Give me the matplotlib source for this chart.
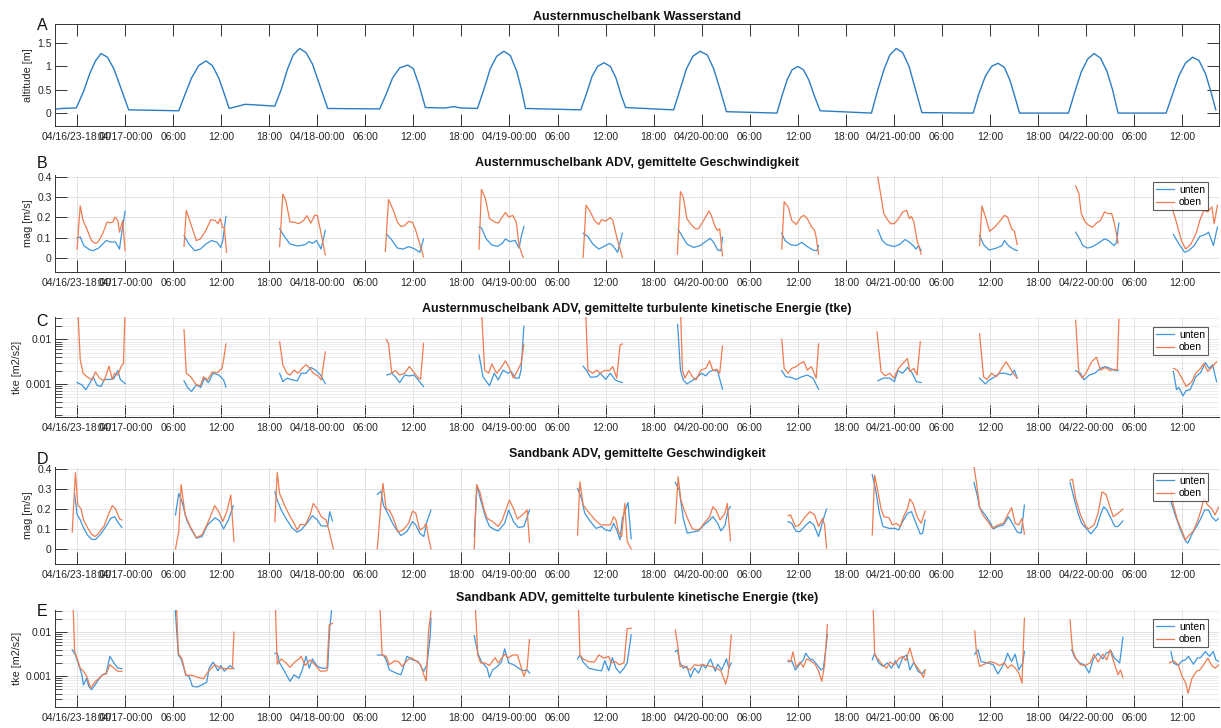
import numpy as np
import matplotlib
matplotlib.use("Agg")
import matplotlib.pyplot as plt
from matplotlib.ticker import FixedLocator, FixedFormatter, LogLocator, NullFormatter

plt.rcParams['font.family'] = ['Liberation Sans', 'DejaVu Sans']

# time axis: hours since 04/16/23 00:00
tick_hours = list(range(18, 157, 6))
tick_labels = ['04/16/23-18:00', '04/17-00:00', '06:00', '12:00', '18:00',
               '04/18-00:00', '06:00', '12:00', '18:00',
               '04/19-00:00', '06:00', '12:00', '18:00',
               '04/20-00:00', '06:00', '12:00', '18:00',
               '04/21-00:00', '06:00', '12:00', '18:00',
               '04/22-00:00', '06:00', '12:00']

titles = ['Austernmuschelbank Wasserstand',
          'Austernmuschelbank ADV, gemittelte Geschwindigkeit',
          'Austernmuschelbank ADV, gemittelte turbulente kinetische Energie (tke)',
          'Sandbank ADV, gemittelte Geschwindigkeit',
          'Sandbank ADV, gemittelte turbulente kinetische Energie (tke)']
letters = ['A', 'B', 'C', 'D', 'E']
ylabels = ['altitude [m]', 'mag [m/s]', 'tke [m2/s2]', 'mag [m/s]', 'tke [m2/s2]']

# panel A: water level (hour, m)
tide = [(15.2, 0.07), (16.0, 0.09), (17.9, 0.10),
        (18.8, 0.45), (19.6, 0.85), (20.3, 1.12), (21.0, 1.28), (21.8, 1.20), (22.6, 0.95), (23.5, 0.52), (24.45, 0.06),
        (30.7, 0.04), (31.5, 0.40), (32.3, 0.75), (33.2, 1.02), (34.1, 1.12), (34.9, 1.02), (35.7, 0.75), (36.4, 0.40), (37.0, 0.09),
        (39.0, 0.18), (41.0, 0.16), (42.7, 0.14),
        (43.5, 0.50), (44.3, 0.95), (45.0, 1.25), (45.8, 1.39), (46.6, 1.30), (47.4, 1.05), (48.3, 0.60), (49.3, 0.09),
        (55.8, 0.08),
        (56.6, 0.40), (57.4, 0.75), (58.3, 0.97), (59.3, 1.03), (60.0, 0.95), (60.7, 0.60), (61.5, 0.11),
        (64.0, 0.10), (65.0, 0.13), (66.0, 0.10), (68.0, 0.09),
        (68.8, 0.50), (69.6, 0.95), (70.4, 1.22), (71.3, 1.33), (72.1, 1.24), (72.9, 0.90), (73.5, 0.50), (74.0, 0.09),
        (80.9, 0.06),
        (81.6, 0.40), (82.3, 0.78), (83.0, 1.00), (83.8, 1.08), (84.6, 1.00), (85.3, 0.75), (85.9, 0.40), (86.5, 0.11),
        (92.5, 0.06),
        (93.3, 0.50), (94.1, 0.95), (94.9, 1.22), (95.8, 1.33), (96.7, 1.25), (97.5, 0.95), (98.3, 0.50), (99.1, 0.02),
        (105.4, -0.01),
        (106.0, 0.35), (106.7, 0.72), (107.3, 0.93), (108.0, 1.00), (108.7, 0.93), (109.4, 0.70), (110.1, 0.35), (110.8, 0.04),
        (117.2, -0.01),
        (118.0, 0.50), (118.8, 0.95), (119.5, 1.25), (120.3, 1.39), (121.1, 1.30), (121.9, 1.00), (122.7, 0.50), (123.5, 0.0),
        (129.9, -0.01),
        (130.6, 0.40), (131.4, 0.78), (132.2, 1.00), (133.0, 1.07), (133.8, 0.98), (134.5, 0.70), (135.1, 0.35), (135.7, -0.01),
        (141.8, -0.01),
        (142.6, 0.45), (143.4, 0.88), (144.2, 1.16), (145.0, 1.28), (145.8, 1.18), (146.6, 0.90), (147.3, 0.50), (148.0, -0.01),
        (154.0, -0.01),
        (154.8, 0.40), (155.6, 0.80), (156.4, 1.07), (157.3, 1.20), (158.1, 1.13), (158.9, 0.85), (159.6, 0.45), (160.2, 0.06)]

# panel B: Austernmuschelbank mag [m/s]
B_unten = [
    [(18.0, 0.098), (18.4, 0.103), (18.85, 0.06), (19.55, 0.04), (20.0, 0.035), (20.7, 0.048), (21.65, 0.085), (22.2, 0.078), (22.8, 0.078), (23.3, 0.043), (23.5, 0.10), (24.0, 0.23)],
    [(31.36, 0.11), (31.97, 0.068), (32.7, 0.035), (33.4, 0.043), (34.1, 0.068), (34.8, 0.085), (35.5, 0.076), (35.95, 0.051), (36.2, 0.085), (36.6, 0.204)],
    [(43.3, 0.143), (43.9, 0.105), (44.6, 0.068), (45.56, 0.058), (46.5, 0.065), (46.97, 0.08), (47.4, 0.071), (47.9, 0.085), (48.47, 0.043), (49.0, 0.135)],
    [(56.7, 0.115), (57.3, 0.088), (58.0, 0.048), (58.7, 0.043), (59.4, 0.055), (60.1, 0.045), (60.8, 0.027), (61.27, 0.093)],
    [(68.2, 0.151), (68.5, 0.148), (69.1, 0.093), (69.8, 0.063), (70.5, 0.056), (71.1, 0.071), (71.5, 0.093), (72.0, 0.08), (72.7, 0.085), (73.2, 0.048), (73.45, 0.101), (73.8, 0.154)],
    [(81.2, 0.121), (81.8, 0.105), (82.4, 0.068), (83.15, 0.043), (83.8, 0.056), (84.5, 0.071), (84.9, 0.06), (85.5, 0.027), (86.1, 0.121)],
    [(93.06, 0.138), (93.4, 0.118), (94.15, 0.068), (95.0, 0.051), (95.8, 0.06), (96.5, 0.08), (97.07, 0.096), (97.5, 0.076), (98.0, 0.038), (98.4, 0.035), (98.6, 0.101)],
    [(106.0, 0.121), (106.4, 0.085), (107.1, 0.065), (107.8, 0.06), (108.5, 0.076), (109.2, 0.055), (109.9, 0.038), (110.4, 0.035), (110.6, 0.06)],
    [(118.0, 0.138), (118.55, 0.085), (119.1, 0.065), (120.06, 0.055), (120.8, 0.068), (121.4, 0.09), (121.95, 0.076), (122.4, 0.06), (122.76, 0.043), (123.1, 0.06), (123.4, 0.035)],
    [(130.7, 0.11), (131.2, 0.065), (131.9, 0.038), (132.8, 0.048), (133.5, 0.06), (133.8, 0.085), (134.3, 0.06), (134.9, 0.043), (135.4, 0.035)],
    [(142.7, 0.126), (143.2, 0.093), (143.6, 0.06), (144.2, 0.048), (144.8, 0.055), (145.5, 0.071), (146.3, 0.093), (146.8, 0.085), (147.5, 0.06), (147.8, 0.076), (148.1, 0.171)],
    [(154.9, 0.115), (155.6, 0.068), (156.3, 0.027), (156.8, 0.035), (157.5, 0.06), (158.2, 0.105), (158.9, 0.115), (159.3, 0.126), (159.9, 0.06), (160.4, 0.151)],
]
B_oben = [
    [(18.0, 0.043), (18.4, 0.256), (18.75, 0.184), (19.3, 0.135), (19.8, 0.085), (20.25, 0.071), (20.6, 0.076), (21.2, 0.118), (21.75, 0.176), (22.1, 0.173), (22.5, 0.176), (22.7, 0.20), (23.1, 0.184), (23.3, 0.126), (23.7, 0.184), (24.0, 0.035)],
    [(31.36, 0.056), (31.64, 0.234), (32.2, 0.168), (32.9, 0.085), (33.4, 0.093), (34.1, 0.135), (34.7, 0.188), (35.25, 0.184), (35.6, 0.168), (35.86, 0.193), (36.2, 0.148), (36.4, 0.151), (36.66, 0.027)],
    [(43.3, 0.055), (43.7, 0.314), (44.06, 0.284), (44.6, 0.176), (45.1, 0.176), (45.66, 0.168), (46.3, 0.184), (46.7, 0.208), (47.2, 0.171), (47.67, 0.209), (48.0, 0.209), (48.4, 0.135), (49.0, 0.015)],
    [(56.5, 0.032), (56.9, 0.287), (57.5, 0.234), (58.0, 0.176), (58.45, 0.154), (58.9, 0.158), (59.4, 0.179), (59.9, 0.174), (60.3, 0.135), (60.8, 0.068), (61.27, 0.005)],
    [(68.2, 0.043), (68.5, 0.337), (69.0, 0.292), (69.5, 0.193), (70.2, 0.176), (70.6, 0.171), (71.1, 0.201), (71.5, 0.223), (71.9, 0.201), (72.4, 0.209), (72.85, 0.176), (73.2, 0.06), (73.7, 0.002)],
    [(81.2, 0.002), (81.56, 0.259), (82.1, 0.226), (82.6, 0.184), (83.15, 0.164), (83.5, 0.188), (84.0, 0.181), (84.6, 0.198), (84.9, 0.184), (85.4, 0.101), (85.9, 0.032), (86.1, 0.002)],
    [(92.97, 0.018), (93.35, 0.326), (93.7, 0.30), (94.15, 0.193), (94.6, 0.168), (95.2, 0.143), (95.6, 0.143), (96.0, 0.168), (96.5, 0.201), (96.9, 0.231), (97.2, 0.209), (97.7, 0.151), (98.0, 0.135), (98.25, 0.143), (98.6, 0.01)],
    [(106.0, 0.043), (106.3, 0.276), (106.8, 0.251), (107.25, 0.184), (107.8, 0.164), (108.4, 0.201), (108.76, 0.209), (109.2, 0.193), (109.7, 0.154), (110.1, 0.135), (110.3, 0.101), (110.6, 0.018)],
    [(118.0, 0.397), (118.4, 0.30), (118.75, 0.218), (119.1, 0.193), (119.6, 0.168), (120.06, 0.168), (120.6, 0.193), (121.1, 0.226), (121.6, 0.234), (121.95, 0.193), (122.2, 0.204), (122.5, 0.176), (122.9, 0.085), (123.4, 0.018)],
    [(130.7, 0.06), (131.0, 0.256), (131.5, 0.193), (131.95, 0.131), (132.6, 0.151), (133.2, 0.179), (133.8, 0.209), (134.2, 0.201), (134.7, 0.143), (135.05, 0.131), (135.4, 0.065)],
    [(142.7, 0.354), (143.1, 0.317), (143.4, 0.218), (143.9, 0.176), (144.35, 0.159), (144.8, 0.151), (145.3, 0.171), (145.8, 0.184), (146.3, 0.226), (146.7, 0.218), (147.2, 0.218), (147.5, 0.176), (147.8, 0.118), (148.0, 0.071)],
    [(154.7, 0.26), (154.9, 0.226), (155.4, 0.159), (155.9, 0.085), (156.45, 0.043), (157.1, 0.068), (157.8, 0.126), (158.2, 0.184), (158.7, 0.234), (159.2, 0.226), (159.7, 0.251), (160.0, 0.168), (160.4, 0.259)],
]

# panel C: Austernmuschelbank tke, read as log10(m2/s2)
C_unten = [
    [(18.0, -2.97), (18.6, -3.02), (19.1, -3.13), (19.55, -3.0), (20.0, -2.84), (20.5, -3.03), (21.0, -3.06), (21.4, -2.9), (22.1, -2.9), (22.6, -2.88), (23.1, -2.7), (23.4, -2.9), (24.0, -2.99)],
    [(31.36, -2.93), (31.8, -3.08), (32.3, -3.17), (32.9, -3.02), (33.45, -3.08), (33.9, -2.87), (34.4, -2.97), (35.0, -2.76), (35.7, -2.8), (36.3, -2.91), (36.6, -3.07)],
    [(43.3, -2.76), (43.7, -2.95), (44.25, -2.87), (44.86, -2.91), (45.5, -2.93), (46.0, -2.76), (46.6, -2.76), (47.2, -2.63), (47.8, -2.69), (48.4, -2.8), (49.0, -2.99)],
    [(56.7, -2.8), (57.3, -2.76), (57.75, -2.84), (58.3, -2.97), (58.9, -2.8), (59.5, -2.82), (60.1, -2.8), (60.6, -2.91), (61.27, -3.06)],
    [(68.2, -2.35), (68.7, -2.84), (69.5, -3.04), (70.1, -2.76), (70.6, -2.91), (71.2, -2.69), (71.8, -2.76), (72.2, -2.72), (72.75, -2.87), (73.2, -2.87), (73.45, -2.69), (73.8, -1.7)],
    [(81.2, -2.6), (81.7, -2.72), (82.1, -2.85), (82.9, -2.84), (83.35, -2.76), (84.0, -2.9), (84.6, -2.76), (85.2, -2.91), (85.7, -2.95), (86.1, -2.97)],
    [(93.0, -1.66), (93.35, -2.69), (93.7, -2.91), (94.15, -3.0), (94.6, -2.95), (95.3, -2.87), (96.0, -2.76), (96.5, -2.82), (97.0, -2.72), (97.5, -2.69), (98.0, -2.72), (98.6, -3.12)],
    [(106.0, -2.7), (106.5, -2.84), (107.1, -2.85), (107.8, -2.9), (108.5, -2.84), (109.2, -2.8), (109.9, -2.87), (110.6, -3.12)],
    [(118.0, -2.93), (118.7, -2.87), (119.5, -2.87), (120.06, -2.95), (120.5, -2.7), (121.1, -2.76), (121.7, -2.63), (122.3, -2.76), (122.8, -2.95), (123.4, -2.97)],
    [(130.7, -2.87), (131.4, -3.0), (131.95, -2.91), (132.6, -2.84), (133.2, -2.76), (133.8, -2.76), (134.6, -2.8), (135.05, -2.69), (135.4, -2.87)],
    [(142.7, -2.7), (143.3, -2.76), (143.75, -2.91), (144.4, -2.8), (145.1, -2.76), (145.8, -2.65), (146.4, -2.61), (147.0, -2.65), (147.5, -2.69), (148.0, -2.7)],
    [(154.9, -2.72), (155.3, -3.13), (155.6, -3.08), (156.1, -3.27), (156.5, -3.15), (157.0, -3.13), (157.7, -2.84), (158.3, -2.75), (158.9, -2.52), (159.35, -2.65), (159.8, -2.57), (160.3, -2.95)],
]
C_oben = [
    [(18.1, -1.3), (18.4, -2.46), (18.75, -2.76), (19.3, -2.85), (19.9, -2.91), (20.3, -2.73), (20.8, -2.87), (21.4, -2.93), (22.0, -2.6), (22.4, -2.9), (22.7, -2.76), (23.1, -2.8), (23.5, -2.61), (23.8, -2.54), (24.0, -1.3)],
    [(31.36, -1.78), (31.64, -2.76), (32.2, -2.84), (32.9, -3.02), (33.4, -3.04), (33.8, -2.84), (34.3, -2.91), (34.9, -2.73), (35.5, -2.75), (36.1, -2.65), (36.3, -2.46), (36.6, -2.1)],
    [(43.3, -2.05), (43.7, -2.57), (44.2, -2.76), (44.6, -2.8), (45.1, -2.69), (45.6, -2.76), (46.1, -2.65), (46.6, -2.57), (47.1, -2.65), (47.5, -2.76), (48.1, -2.82), (48.5, -2.91), (49.0, -2.28)],
    [(56.6, -2.0), (56.9, -2.09), (57.3, -2.76), (57.75, -2.7), (58.3, -2.8), (58.9, -2.76), (59.5, -2.61), (60.0, -2.72), (60.5, -2.84), (60.9, -2.9), (61.27, -2.09)],
    [(68.5, -1.3), (68.9, -2.69), (69.4, -2.76), (69.8, -2.55), (70.4, -2.76), (70.9, -2.65), (71.5, -2.48), (72.0, -2.65), (72.5, -2.87), (73.0, -2.7), (73.45, -2.54), (73.8, -2.11)],
    [(81.5, -1.3), (81.8, -2.69), (82.4, -2.76), (82.9, -2.69), (83.35, -2.76), (83.8, -2.7), (84.5, -2.7), (84.9, -2.61), (85.4, -2.87), (85.8, -2.13), (86.1, -2.1)],
    [(93.35, -1.3), (93.6, -2.69), (93.9, -2.87), (94.4, -2.7), (94.85, -2.84), (95.3, -2.91), (95.9, -2.69), (96.5, -2.65), (97.0, -2.48), (97.4, -2.7), (97.9, -2.67), (98.25, -2.76), (98.6, -2.15)],
    [(106.0, -2.0), (106.3, -2.65), (106.8, -2.76), (107.25, -2.65), (107.8, -2.61), (108.3, -2.54), (108.76, -2.5), (109.2, -2.69), (109.7, -2.61), (110.3, -2.87), (110.6, -2.1)],
    [(117.9, -1.83), (118.4, -2.72), (118.9, -2.82), (119.5, -2.76), (120.0, -2.87), (120.5, -2.67), (121.1, -2.54), (121.7, -2.43), (122.0, -2.72), (122.5, -2.65), (122.9, -2.8), (123.3, -2.05)],
    [(130.7, -1.87), (131.2, -2.84), (131.6, -2.9), (132.2, -2.76), (132.8, -2.84), (133.35, -2.69), (134.0, -2.5), (134.4, -2.61), (134.9, -2.76), (135.4, -2.87)],
    [(142.7, -1.57), (143.1, -2.76), (143.55, -2.87), (144.1, -2.72), (144.7, -2.5), (145.3, -2.4), (145.8, -2.69), (146.4, -2.63), (147.0, -2.7), (147.5, -2.67), (147.9, -2.69), (148.1, -1.55)],
    [(154.9, -2.65), (155.4, -2.69), (155.9, -2.85), (156.5, -3.06), (157.2, -2.95), (157.7, -2.76), (158.3, -2.65), (158.7, -2.54), (159.2, -2.72), (159.8, -2.61), (160.3, -2.5)],
]

# panel D: Sandbank mag [m/s]
D_unten = [
    [(17.7, 0.276), (18.0, 0.172), (18.4, 0.144), (18.8, 0.106), (19.3, 0.069), (19.8, 0.048), (20.3, 0.046), (20.95, 0.073), (21.7, 0.116), (22.2, 0.152), (22.7, 0.16), (23.2, 0.127), (23.6, 0.106)],
    [(30.3, 0.169), (30.7, 0.276), (31.1, 0.235), (31.7, 0.144), (32.3, 0.094), (32.9, 0.053), (33.6, 0.061), (34.3, 0.119), (35.25, 0.155), (35.8, 0.139), (36.3, 0.099), (36.9, 0.144), (37.5, 0.215)],
    [(42.7, 0.284), (43.0, 0.243), (43.5, 0.193), (44.2, 0.144), (44.9, 0.102), (45.5, 0.083), (46.0, 0.094), (46.7, 0.127), (47.4, 0.165), (48.0, 0.144), (48.5, 0.114), (49.3, 0.114), (49.55, 0.185), (49.9, 0.139)],
    [(55.5, 0.271), (55.97, 0.288), (56.25, 0.218), (56.8, 0.177), (57.4, 0.127), (58.0, 0.089), (58.45, 0.066), (59.2, 0.086), (59.9, 0.136), (60.3, 0.119), (60.8, 0.078), (61.3, 0.061), (61.7, 0.136), (62.2, 0.193)],
    [(67.6, 0.061), (67.95, 0.317), (68.4, 0.243), (69.0, 0.16), (69.5, 0.111), (70.2, 0.094), (70.6, 0.089), (71.4, 0.127), (71.9, 0.193), (72.5, 0.136), (73.1, 0.106), (73.8, 0.111), (74.5, 0.193)],
    [(80.5, 0.301), (81.0, 0.251), (81.4, 0.177), (82.1, 0.136), (82.8, 0.102), (83.5, 0.111), (84.0, 0.094), (84.6, 0.089), (85.0, 0.127), (85.4, 0.094), (85.8, 0.045), (86.1, 0.152), (86.8, 0.231), (87.2, 0.05)],
    [(92.7, 0.331), (93.2, 0.293), (93.7, 0.152), (94.2, 0.078), (94.85, 0.083), (95.6, 0.089), (96.3, 0.119), (96.9, 0.139), (97.4, 0.16), (98.0, 0.127), (98.4, 0.089), (98.9, 0.116), (99.3, 0.193), (99.6, 0.21)],
    [(106.8, 0.136), (107.25, 0.127), (107.8, 0.086), (108.3, 0.086), (108.85, 0.111), (109.5, 0.136), (110.0, 0.119), (110.6, 0.061), (111.1, 0.136), (111.6, 0.198)],
    [(117.3, 0.37), (117.7, 0.301), (118.2, 0.177), (118.65, 0.111), (119.4, 0.102), (120.1, 0.102), (120.6, 0.094), (121.1, 0.136), (121.7, 0.177), (122.2, 0.185), (122.6, 0.144), (123.3, 0.073), (123.6, 0.078), (123.9, 0.144)],
    [(130.0, 0.331), (130.4, 0.268), (130.7, 0.205), (131.4, 0.169), (132.1, 0.127), (132.4, 0.099), (133.0, 0.111), (133.7, 0.119), (134.3, 0.16), (134.8, 0.127), (135.4, 0.083), (135.9, 0.078), (136.3, 0.218)],
    [(142.0, 0.331), (142.5, 0.251), (143.0, 0.177), (143.45, 0.127), (144.2, 0.094), (144.6, 0.074), (145.35, 0.111), (145.8, 0.169), (146.2, 0.21), (146.6, 0.193), (147.1, 0.152), (147.6, 0.111), (148.0, 0.111), (148.6, 0.139)],
    [(154.6, 0.235), (155.2, 0.16), (155.8, 0.094), (156.4, 0.04), (156.7, 0.028), (157.3, 0.078), (157.9, 0.119), (158.3, 0.149), (158.8, 0.193), (159.3, 0.193), (159.7, 0.16), (160.2, 0.139), (160.6, 0.152)],
]
D_oben = [
    [(17.4, 0.083), (17.8, 0.38), (18.1, 0.218), (18.5, 0.2), (18.8, 0.144), (19.3, 0.106), (19.8, 0.073), (20.25, 0.061), (20.7, 0.078), (21.4, 0.116), (21.9, 0.169), (22.4, 0.215), (22.8, 0.2), (23.3, 0.149), (23.6, 0.144)],
    [(30.3, 0.0), (30.7, 0.086), (31.0, 0.32), (31.5, 0.169), (32.2, 0.106), (32.9, 0.056), (33.6, 0.069), (34.3, 0.127), (35.2, 0.215), (35.7, 0.185), (36.2, 0.136), (36.7, 0.185), (37.2, 0.268), (37.6, 0.036)],
    [(42.7, 0.136), (43.0, 0.38), (43.3, 0.276), (43.9, 0.218), (44.5, 0.169), (45.1, 0.127), (45.5, 0.094), (45.9, 0.122), (46.5, 0.119), (47.1, 0.169), (47.5, 0.226), (48.0, 0.2), (48.5, 0.16), (49.1, 0.144), (49.5, 0.086), (50.0, 0.0)],
    [(55.5, 0.0), (55.9, 0.2), (56.2, 0.326), (56.6, 0.2), (57.0, 0.193), (57.5, 0.152), (58.1, 0.083), (58.7, 0.094), (59.4, 0.127), (59.9, 0.188), (60.3, 0.177), (60.8, 0.094), (61.3, 0.106), (61.6, 0.127), (61.9, 0.053), (62.2, 0.0)],
    [(67.6, 0.0), (67.9, 0.32), (68.3, 0.284), (68.8, 0.2), (69.2, 0.152), (69.9, 0.136), (70.6, 0.111), (71.1, 0.144), (71.6, 0.2), (72.0, 0.243), (72.5, 0.2), (73.0, 0.149), (73.6, 0.169), (74.2, 0.193), (74.5, 0.033)],
    [(80.5, 0.069), (80.8, 0.334), (81.2, 0.218), (82.0, 0.177), (82.7, 0.144), (83.4, 0.119), (84.1, 0.119), (84.6, 0.119), (85.0, 0.16), (85.3, 0.144), (85.6, 0.086), (86.0, 0.061), (86.4, 0.226), (86.7, 0.036), (87.2, 0.0)],
    [(92.7, 0.127), (93.06, 0.359), (93.4, 0.243), (93.9, 0.185), (94.4, 0.136), (94.85, 0.099), (95.3, 0.094), (95.8, 0.099), (96.3, 0.127), (97.0, 0.16), (97.4, 0.21), (97.8, 0.193), (98.3, 0.144), (98.9, 0.177), (99.2, 0.226), (99.6, 0.04)],
    [(106.8, 0.165), (107.1, 0.169), (107.7, 0.111), (108.2, 0.119), (108.76, 0.152), (109.5, 0.185), (110.1, 0.169), (110.6, 0.111), (111.1, 0.152), (111.35, 0.119), (111.6, 0.003)],
    [(117.3, 0.069), (117.6, 0.367), (117.9, 0.309), (118.4, 0.2), (118.75, 0.16), (119.4, 0.155), (119.8, 0.119), (120.3, 0.127), (120.8, 0.111), (121.2, 0.16), (121.7, 0.2), (122.0, 0.248), (122.4, 0.226), (122.9, 0.16), (123.4, 0.127), (123.9, 0.188)],
    [(130.0, 0.408), (130.3, 0.334), (130.7, 0.21), (131.1, 0.169), (131.75, 0.136), (132.3, 0.102), (133.0, 0.119), (133.7, 0.127), (134.2, 0.169), (134.7, 0.205), (135.15, 0.127), (135.6, 0.119), (136.0, 0.152), (136.3, 0.073)],
    [(142.0, 0.342), (142.3, 0.347), (142.7, 0.251), (143.3, 0.169), (143.9, 0.116), (144.3, 0.099), (145.0, 0.119), (145.5, 0.177), (146.0, 0.284), (146.5, 0.271), (146.9, 0.218), (147.4, 0.16), (148.0, 0.177), (148.6, 0.198)],
    [(154.6, 0.284), (154.9, 0.218), (155.4, 0.144), (156.0, 0.086), (156.4, 0.045), (156.9, 0.069), (157.4, 0.089), (157.9, 0.136), (158.3, 0.185), (158.7, 0.251), (159.2, 0.218), (159.7, 0.2), (160.1, 0.169), (160.6, 0.21)],
]

# panel E: Sandbank tke, read as log10(m2/s2)
E_unten = [
    [(17.4, -2.4), (17.8, -2.52), (18.1, -2.68), (18.6, -2.97), (18.8, -3.2), (19.2, -3.05), (19.45, -3.23), (19.8, -3.31), (20.25, -3.2), (20.7, -3.08), (21.2, -2.97), (21.65, -2.93), (22.1, -2.55), (22.6, -2.7), (23.1, -2.82), (23.6, -2.83)],
    [(30.2, -1.3), (30.65, -2.52), (31.0, -2.61), (31.6, -2.98), (32.0, -3.01), (32.4, -3.23), (33.0, -3.25), (33.6, -3.2), (34.2, -3.14), (34.5, -2.82), (35.0, -2.68), (35.6, -2.88), (35.95, -2.76), (36.4, -2.89), (37.1, -2.76), (37.6, -2.83)],
    [(42.7, -2.48), (43.0, -2.48), (43.3, -2.7), (43.9, -2.89), (44.6, -3.12), (45.1, -2.97), (45.7, -3.05), (46.1, -2.88), (46.6, -2.55), (47.0, -2.82), (47.4, -2.61), (48.0, -2.78), (48.6, -2.82), (49.3, -2.82), (49.55, -1.91), (49.9, -1.3)],
    [(55.5, -2.52), (56.25, -2.52), (56.6, -2.63), (57.0, -2.86), (57.8, -2.93), (58.45, -2.97), (59.2, -2.55), (59.9, -2.63), (60.6, -2.67), (61.3, -2.89), (61.7, -2.74), (62.1, -2.1), (62.2, -1.68)],
    [(67.6, -2.08), (68.05, -2.48), (68.5, -2.67), (69.2, -2.82), (69.5, -3.03), (69.9, -2.86), (70.5, -2.78), (71.0, -2.68), (71.4, -2.38), (71.9, -2.7), (72.5, -2.74), (73.0, -2.8), (73.6, -2.88), (74.2, -2.86), (74.5, -2.93)],
    [(80.5, -2.61), (80.8, -2.52), (81.2, -2.68), (81.9, -2.82), (82.8, -2.86), (83.5, -2.88), (83.9, -2.65), (84.4, -2.88), (84.85, -2.58), (85.3, -2.82), (85.8, -2.93), (86.3, -2.82), (86.7, -2.7), (87.2, -2.06)],
    [(92.7, -2.44), (92.97, -2.4), (93.3, -2.7), (93.7, -2.82), (94.15, -2.78), (94.6, -3.03), (95.1, -2.82), (95.6, -2.93), (96.1, -2.73), (96.5, -2.82), (97.1, -2.61), (97.7, -2.89), (98.0, -2.73), (98.5, -2.86), (99.1, -2.61), (99.4, -2.82), (99.7, -2.7)],
    [(106.8, -2.67), (107.25, -2.65), (107.7, -2.86), (108.2, -2.74), (108.7, -2.63), (109.0, -2.48), (109.5, -2.61), (109.9, -2.63), (110.4, -2.74), (110.9, -2.86), (111.2, -2.82), (111.5, -2.38), (111.7, -2.05)],
    [(117.3, -2.63), (117.6, -2.48), (118.1, -2.7), (118.65, -2.78), (119.2, -2.7), (119.7, -2.82), (120.2, -2.65), (120.6, -2.82), (121.1, -2.58), (121.6, -2.52), (122.0, -2.86), (122.5, -2.68), (123.0, -2.89), (123.5, -2.95), (123.9, -2.86)],
    [(130.1, -2.5), (130.5, -2.4), (130.9, -2.67), (131.7, -2.7), (132.4, -2.74), (133.0, -2.95), (133.8, -2.7), (134.2, -2.48), (134.7, -2.67), (135.15, -2.5), (135.6, -2.86), (136.1, -2.7), (136.3, -2.44)],
    [(142.2, -2.4), (142.6, -2.58), (143.2, -2.7), (143.75, -2.74), (144.4, -2.93), (144.9, -2.61), (145.5, -2.48), (146.1, -2.61), (146.5, -2.48), (147.1, -2.42), (147.5, -2.58), (148.2, -2.7), (148.6, -2.12)],
    [(154.6, -2.44), (154.9, -2.7), (155.5, -2.76), (156.0, -2.65), (156.4, -2.63), (156.8, -2.55), (157.4, -2.73), (157.9, -2.59), (158.3, -2.58), (158.9, -2.44), (159.4, -2.55), (159.9, -2.44), (160.2, -2.63), (160.6, -2.67)],
]
E_oben = [
    [(17.5, -1.3), (17.7, -2.44), (18.0, -2.59), (18.4, -2.82), (18.75, -2.88), (19.1, -2.97), (19.3, -3.05), (19.7, -3.27), (20.0, -3.2), (20.3, -3.12), (20.7, -3.06), (21.2, -2.97), (21.65, -2.95), (22.1, -2.74), (22.6, -2.82), (23.1, -2.89), (23.6, -2.89)],
    [(30.4, -1.3), (30.65, -2.48), (31.1, -2.61), (31.6, -2.98), (32.3, -2.98), (33.1, -3.03), (33.8, -3.06), (34.4, -2.89), (35.2, -2.74), (35.95, -2.82), (36.7, -2.83), (37.4, -2.83), (37.6, -2.0)],
    [(42.75, -1.3), (43.0, -2.73), (43.5, -2.61), (44.1, -2.7), (44.6, -2.8), (45.2, -2.68), (45.7, -2.61), (46.0, -2.55), (46.5, -2.76), (47.1, -2.63), (47.7, -2.74), (48.4, -2.89), (49.2, -2.88), (49.5, -1.83), (49.9, -1.8)],
    [(55.8, -1.3), (56.1, -2.52), (56.6, -2.55), (57.0, -2.74), (57.7, -2.65), (58.2, -2.68), (58.6, -2.78), (59.2, -2.65), (59.7, -2.58), (60.3, -2.65), (60.9, -2.74), (61.3, -2.97), (61.6, -3.11), (61.9, -1.98), (62.2, -1.52)],
    [(67.7, -1.3), (68.05, -2.52), (68.4, -2.7), (68.9, -2.7), (69.5, -2.76), (70.2, -2.58), (70.6, -2.7), (71.4, -2.5), (71.8, -2.59), (72.4, -2.52), (73.0, -2.52), (73.5, -2.82), (73.8, -3.01), (74.2, -2.82), (74.5, -2.17)],
    [(80.6, -1.3), (80.8, -2.52), (81.2, -2.61), (81.9, -2.67), (82.6, -2.68), (83.15, -2.52), (83.8, -2.59), (84.4, -2.55), (84.7, -2.7), (85.2, -2.67), (85.7, -2.74), (86.3, -2.7), (86.7, -1.92), (87.2, -1.91)],
    [(92.7, -1.95), (92.97, -2.25), (93.3, -2.78), (93.7, -2.76), (94.15, -2.82), (94.6, -2.86), (95.1, -2.74), (95.6, -2.76), (96.1, -2.74), (96.6, -2.76), (97.2, -2.78), (97.8, -2.82), (98.4, -2.88), (99.0, -3.18), (99.3, -2.97), (99.7, -2.06)],
    [(106.8, -2.63), (107.1, -2.68), (107.4, -2.45), (107.8, -2.8), (108.3, -2.68), (108.7, -2.8), (109.1, -2.61), (109.6, -2.65), (110.2, -2.74), (110.6, -2.89), (111.0, -3.12), (111.35, -2.74), (111.7, -1.83)],
    [(117.4, -1.3), (117.6, -2.52), (118.1, -2.63), (118.55, -2.74), (119.1, -2.82), (119.5, -2.68), (120.06, -2.74), (120.6, -2.61), (121.1, -2.55), (121.5, -2.65), (122.0, -2.36), (122.5, -2.7), (123.0, -2.82), (123.4, -2.93), (123.7, -3.03), (123.9, -2.86)],
    [(130.1, -1.97), (130.3, -2.44), (130.7, -2.78), (131.3, -2.73), (132.0, -2.67), (132.6, -2.7), (133.2, -2.76), (133.8, -2.7), (134.2, -2.82), (134.7, -2.74), (135.15, -2.82), (135.6, -2.93), (136.0, -3.16), (136.3, -1.68)],
    [(142.0, -1.72), (142.3, -2.4), (142.7, -2.59), (143.3, -2.74), (143.9, -2.76), (144.5, -2.7), (145.0, -2.5), (145.5, -2.68), (146.1, -2.5), (146.6, -2.63), (147.0, -2.4), (147.5, -2.7), (148.0, -2.97), (148.3, -2.86), (148.6, -3.03)],
    [(154.4, -2.7), (154.9, -2.65), (155.5, -2.74), (156.0, -3.01), (156.45, -3.16), (156.75, -3.39), (157.2, -3.06), (157.8, -2.89), (158.2, -2.86), (158.7, -2.74), (159.2, -2.59), (159.7, -2.76), (160.1, -2.82), (160.6, -2.74)],
]

BLUE = '#3f96dc'
ORANGE = '#ee7c50'
DARK = '#333333'
GRID = '#dedede'


def join(segs, log=False):
    """concatenate burst segments, NaN between them so lines break"""
    xs, ys = [], []
    for seg in segs:
        h, v = zip(*seg)
        xs += list(h) + [np.nan]
        ys += list(v) + [np.nan]
    xs, ys = np.array(xs), np.array(ys)
    if log:
        ys = np.power(10.0, ys)
    return xs, ys


W, H = 1221, 728
fig = plt.figure(figsize=(W / 100, H / 100), dpi=100)

# axes boxes in pixels (top, bottom)
boxes = [(24, 126), (175, 272), (317, 417), (467, 564), (610, 707)]
title_y = [17.5, 163, 309, 453.5, 598]
letter_y = [25.5, 164, 321, 459, 611]
x_left, x_right = 55, 1219

axes = []
for top, bot in boxes:
    ax = fig.add_axes([x_left / W, 1 - bot / H, (x_right - x_left) / W, (bot - top) / H])
    axes.append(ax)

for i, ax in enumerate(axes):
    ax.set_xlim(15.25, 160.6)
    ax.set_xticks(tick_hours)
    ax.set_xticklabels(tick_labels)
    ax.tick_params(axis='both', direction='in', length=8.5, width=0.7, colors=DARK,
                   labelsize=7.5, labelcolor='#262626')
    ax.tick_params(axis='x', pad=4)
    ax.tick_params(axis='y', pad=2.5)
    for s in ax.spines.values():
        s.set_color(DARK)
        s.set_linewidth(0.7)
    fig.text(0.5 * (x_left + x_right) / W, 1 - title_y[i] / H, titles[i],
             ha='center', va='center', fontsize=9, fontweight='bold', color='#111111')
    fig.text(42 / W, 1 - letter_y[i] / H, letters[i], ha='center', va='center',
             fontsize=11.5, color='#111111')
    ax.set_ylabel(ylabels[i], fontsize=7.8, color='#262626')
    ax.set_axisbelow(True)

# A: water level
ax = axes[0]
th, tv = zip(*tide)
ax.plot(th, tv, color='#2b7cc3', lw=1.0)
ax.set_ylim(-0.29, 1.92)
ax.set_yticks([0, 0.5, 1, 1.5])
ax.set_yticklabels(['0', '0.5', '1', '1.5'])
ax.tick_params(top=True, right=True)
ax.yaxis.set_label_coords(-0.019, 0.5)

panels = [(axes[1], B_unten, B_oben, False), (axes[2], C_unten, C_oben, True),
          (axes[3], D_unten, D_oben, False), (axes[4], E_unten, E_oben, True)]
legend_top = [7, 10, 6, 9]

for k, (ax, unten, oben, log) in enumerate(panels):
    xu, yu = join(unten, log)
    xo, yo = join(oben, log)
    ax.plot(xu, yu, color=BLUE, lw=0.9, label='unten')
    ax.plot(xo, yo, color=ORANGE, lw=0.9, label='oben')
    ax.spines['top'].set_visible(False)
    ax.spines['right'].set_visible(False)
    ax.grid(True, which='major', color=GRID, lw=0.6)
    if log:
        ax.set_yscale('log')
        ax.set_ylim(10 ** -3.745 if k == 1 else 10 ** -3.705, 10 ** -1.494)
        ax.yaxis.set_major_locator(FixedLocator([0.001, 0.01]))
        ax.yaxis.set_major_formatter(FixedFormatter(['0.001', '0.01']))
        ax.yaxis.set_minor_locator(LogLocator(base=10, subs=np.arange(2, 10)))
        ax.yaxis.set_minor_formatter(NullFormatter())
        ax.tick_params(axis='y', which='minor', direction='in', length=5, width=0.6, colors=DARK)
        ax.grid(True, which='minor', axis='y', color='#e6e6e6', lw=0.5)
        ax.yaxis.set_label_coords(-0.028, 0.5)
    else:
        ax.set_ylim(-0.07 if k == 0 else -0.076, 0.408)
        ax.set_yticks([0, 0.1, 0.2, 0.3, 0.4])
        ax.set_yticklabels(['0', '0.1', '0.2', '0.3', '0.4'])
        ax.yaxis.set_label_coords(-0.019, 0.5)
    hgt = boxes[k + 1][1] - boxes[k + 1][0]
    leg = ax.legend(loc='upper right', bbox_to_anchor=(1 - 11 / 1164, 1 - legend_top[k] / hgt),
                    fontsize=7.5, frameon=True, fancybox=False, handlelength=1.7,
                    handletextpad=0.5, borderpad=0.3, labelspacing=0.2, borderaxespad=0)
    leg.get_frame().set_edgecolor(DARK)
    leg.get_frame().set_linewidth(0.8)

fig.savefig('out.png', dpi=100)
